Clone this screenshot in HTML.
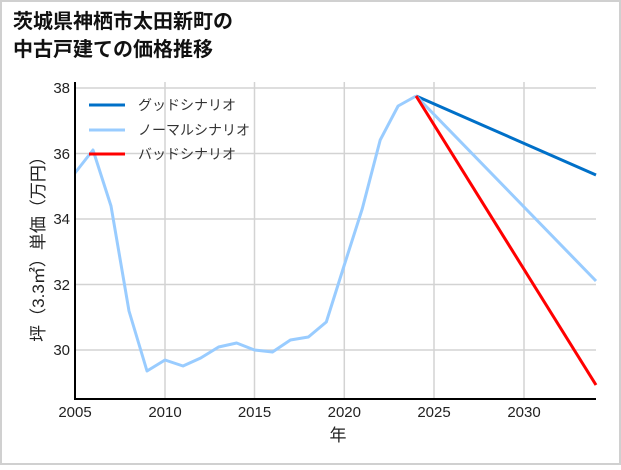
<!DOCTYPE html>
<html><head><meta charset="utf-8"><style>
html,body{margin:0;padding:0;background:#fff}
body{width:621px;height:465px;overflow:hidden}
</style></head><body>
<svg width="621" height="465" xmlns="http://www.w3.org/2000/svg" font-family="'Liberation Sans','Noto Sans CJK JP',sans-serif">
<rect x="1" y="1" width="619" height="463" fill="#fff" stroke="#d0d0d0" stroke-width="2"/>
<text x="13" y="28" font-size="20" font-weight="bold" fill="#111">茨城県神栖市太田新町の</text>
<text x="13" y="56" font-size="20" font-weight="bold" fill="#111">中古戸建ての価格推移</text>
<g stroke="#d3d3d3" stroke-width="1.5">
<line x1="165" y1="82" x2="165" y2="398"/><line x1="254.5" y1="82" x2="254.5" y2="398"/>
<line x1="344.3" y1="82" x2="344.3" y2="398"/><line x1="434" y1="82" x2="434" y2="398"/>
<line x1="524" y1="82" x2="524" y2="398"/>
<line x1="75" y1="88" x2="596" y2="88"/><line x1="75" y1="153.5" x2="596" y2="153.5"/>
<line x1="75" y1="219" x2="596" y2="219"/><line x1="75" y1="284.5" x2="596" y2="284.5"/>
<line x1="75" y1="350" x2="596" y2="350"/>
</g>
<g fill="none" stroke-width="3" stroke-linejoin="round">
<polyline stroke="#99ccff" points="75,173 93,150 111,206 129,311 147,371 165,360 183,366 200.7,358 218.6,347 236.6,343 254.5,350 272.5,352 290.4,340 308.4,337 326.3,322 344.3,265 362.2,209 380.2,140 398.1,106 416.1,96"/>
<line stroke="#0070c8" x1="416.1" y1="96" x2="596" y2="175"/>
<line stroke="#99ccff" x1="416.1" y1="96" x2="596" y2="281"/>
<line stroke="#ff0000" x1="416.1" y1="96" x2="596" y2="385"/>
</g>
<line x1="75" y1="82" x2="75" y2="400" stroke="#000" stroke-width="2"/>
<line x1="74" y1="399" x2="596" y2="399" stroke="#000" stroke-width="2"/>
<g font-size="15" fill="#222" text-anchor="end">
<text x="70" y="93">38</text><text x="70" y="159">36</text><text x="70" y="224">34</text>
<text x="70" y="290">32</text><text x="70" y="355">30</text>
</g>
<g font-size="15" fill="#222" text-anchor="middle">
<text x="75" y="417">2005</text><text x="165" y="417">2010</text><text x="254.5" y="417">2015</text>
<text x="344.3" y="417">2020</text><text x="434" y="417">2025</text><text x="524" y="417">2030</text>
<text x="338" y="441" font-size="17">年</text>
</g>
<text transform="translate(44,245) rotate(-90)" font-size="17" fill="#222" text-anchor="middle">坪（3.3㎡）単価（万円）</text>
<g stroke-width="3">
<line x1="89" y1="105" x2="125" y2="105" stroke="#0070c8"/>
<line x1="89" y1="130" x2="125" y2="130" stroke="#99ccff"/>
<line x1="89" y1="154" x2="125" y2="154" stroke="#ff0000"/>
</g>
<g font-size="14" fill="#333">
<text x="138" y="110">グッドシナリオ</text>
<text x="138" y="135">ノーマルシナリオ</text>
<text x="138" y="159">バッドシナリオ</text>
</g>
</svg>
</body></html>
